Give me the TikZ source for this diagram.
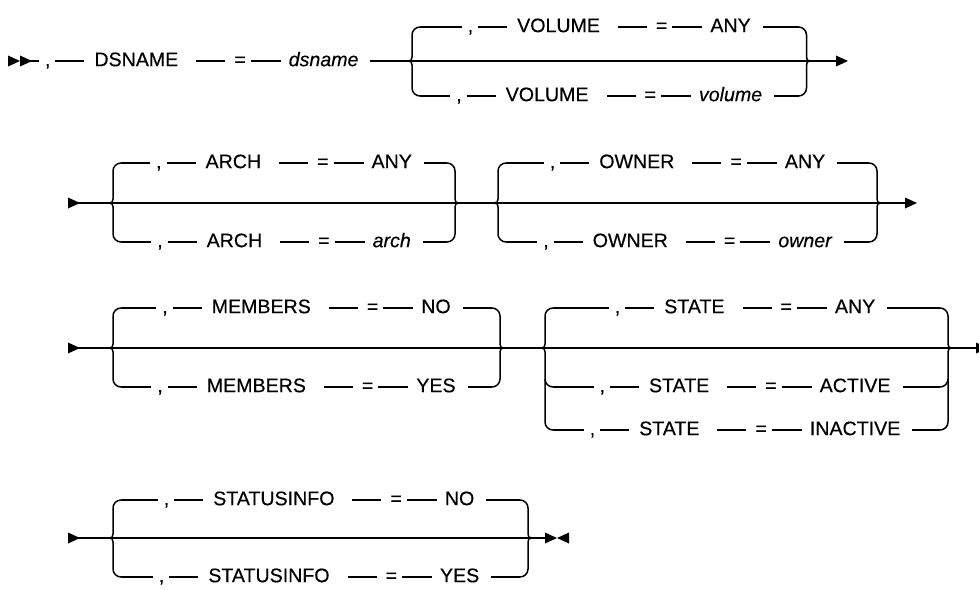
\documentclass[tikz,border=0pt]{standalone}
\usepackage{fontspec}
\setmainfont{Liberation Sans}[FakeBold=0.35]

\tikzset{
  rail/.style={line width=1.5pt, line cap=butt},
  txt/.style={inner sep=0pt, outer sep=0pt, anchor=mid west},
}

% ", -- KEY -- = -- value" on one rail.
% #1 prefix of the node names, #2 x of the comma, #3 rail y, #4 keyword, #5 value
\newcommand\kvseq[5]{%
  \node[txt] (#1c) at (#2,#3) {,};
  \node[txt] (#1k) at ([xshift=44pt]#1c.mid east) {#4};
  \node[txt] (#1q) at ([xshift=56pt]#1k.mid east) {=};
  \node[txt] (#1v) at ([xshift=43pt]#1q.mid east) {#5};
  \draw[rail, shorten <=5pt, shorten >=10pt] (#1c.mid east) -- (#1k.mid west);
  \draw[rail, shorten <=18pt, shorten >=9pt] (#1k.mid east) -- (#1q.mid west);
  \draw[rail, shorten <=5pt, shorten >=8pt] (#1q.mid east) -- (#1v.mid west);
}

% opening fork: #1 name, #2 x, #3 main rail y, #4 top branch y, #5 bottom branch y
\newcommand\forkL[5]{%
  \coordinate (#1) at (#2-4,#3);
  \coordinate (#1t) at (#2+8,#4);
  \coordinate (#1b) at (#2+8,#5);
  \draw[rail] (#1t) .. controls +(-4.4,0) and +(0,-4.4) .. (#2,#4+8)
    -- (#2,#3-4) .. controls +(0,3) and +(3,0) .. (#1)
    .. controls +(3,0) and +(0,-3) .. (#2,#3+4)
    -- (#2,#5-8) .. controls +(0,4.4) and +(-4.4,0) .. (#1b);
}
% closing fork, same arguments
\newcommand\forkR[5]{%
  \coordinate (#1) at (#2+4,#3);
  \coordinate (#1t) at (#2-8,#4);
  \coordinate (#1b) at (#2-8,#5);
  \draw[rail] (#1t) .. controls +(4.4,0) and +(0,-4.4) .. (#2,#4+8)
    -- (#2,#3-4) .. controls +(0,3) and +(-3,0) .. (#1)
    .. controls +(-3,0) and +(0,-3) .. (#2,#3+4)
    -- (#2,#5-8) .. controls +(0,4.4) and +(4.4,0) .. (#1b);
}
% filled triangles: base at #1, pointing right / left
\newcommand\tipR[1]{\fill (#1) ++(0,-5.5) -- ++(12,5.5) -- ++(-12,5.5) -- cycle;}
\newcommand\tipL[1]{\fill (#1) ++(0,-5.5) -- ++(-12,5.5) -- ++(12,5.5) -- cycle;}

% branch from fork ends #1 (left) and #2 (right) through sequence #3
\newcommand\branch[3]{%
  \draw[rail, shorten >=6pt] (#1) -- (#3c.mid west);
  \draw[rail, shorten <=12pt] (#3v.mid east) -- (#2);
}

\begin{document}
\fontsize{19.6}{23}\selectfont
\begin{tikzpicture}[x=1pt,y=-1pt]
\useasboundingbox (0,0) rectangle (979,589);

% ---------- DSNAME, VOLUME ----------
\coordinate (b1) at (8,61);
\coordinate (b1b) at (20,61);
\tipR{b1}
\tipR{b1b}
\coordinate (s1) at (30,61);
\kvseq{d}{45}{61}{DSNAME}{\itshape dsname}
\draw[rail, shorten >=6pt] (s1) -- (dc.mid west);

\forkL{vL}{412}{61}{27}{96}
\forkR{vR}{806.5}{61}{27}{96}
\coordinate (e1) at (836,61);
\draw[rail, shorten <=12pt] (dv.mid east) -- (vL) -- (vR) -- (e1);
\tipR{e1}
\kvseq{va}{467.75}{27}{VOLUME}{ANY}
\kvseq{vb}{456.3}{96}{VOLUME}{\itshape volume}
\branch{vLt}{vRt}{va}
\branch{vLb}{vRb}{vb}

% ---------- ARCH, OWNER ----------
\coordinate (s2) at (68,203);
\tipR{s2}
\forkL{aL}{113}{203}{163}{242}
\forkR{aR}{455}{203}{163}{242}
\forkL{oL}{498}{203}{163}{242}
\forkR{oR}{877}{203}{163}{242}
\coordinate (e2) at (905,203);
\draw[rail] (s2) -- (aL) -- (aR) -- (oL) -- (oR) -- (e2);
\tipR{e2}
\kvseq{aa}{156.15}{163}{ARCH}{ANY}
\kvseq{ab}{157.25}{242}{ARCH}{\itshape arch}
\kvseq{oa}{549.85}{163}{OWNER}{ANY}
\kvseq{ob}{543.3}{242}{OWNER}{\itshape owner}
\branch{aLt}{aRt}{aa}
\branch{aLb}{aRb}{ab}
\branch{oLt}{oRt}{oa}
\branch{oLb}{oRb}{ob}

% ---------- MEMBERS, STATE ----------
\coordinate (s3) at (68,348);
\tipR{s3}
\forkL{mL}{113}{348}{308}{387}
\forkR{mR}{500}{348}{308}{387}
\forkL{stL}{545}{348}{308}{430}
\forkR{stR}{948}{348}{308}{430}
\coordinate (stLm) at (553,387);
\coordinate (stRm) at (940,387);
\draw[rail] (545,379) .. controls +(0,4.4) and +(-4.4,0) .. (stLm);
\draw[rail] (948,379) .. controls +(0,4.4) and +(4.4,0) .. (stRm);
\coordinate (e3) at (976,348);
\draw[rail] (s3) -- (mL) -- (mR) -- (stL) -- (stR) -- (e3);
\tipR{e3}
\kvseq{ma}{162.3}{308}{MEMBERS}{NO}
\kvseq{mb}{157.4}{387}{MEMBERS}{YES}
\kvseq{sa}{614.8}{308}{STATE}{ANY}
\kvseq{sb}{599.55}{387}{STATE}{ACTIVE}
\kvseq{sc}{589.75}{430}{STATE}{INACTIVE}
\branch{mLt}{mRt}{ma}
\branch{mLb}{mRb}{mb}
\branch{stLt}{stRt}{sa}
\branch{stLm}{stRm}{sb}
\branch{stLb}{stRb}{sc}

% ---------- STATUSINFO ----------
\coordinate (s4) at (68,538);
\tipR{s4}
\forkL{iL}{113}{538}{500}{577}
\forkR{iR}{528}{538}{500}{577}
\coordinate (e4) at (545,538);
\coordinate (e4b) at (569,538);
\draw[rail] (s4) -- (iL) -- (iR) -- (e4);
\tipR{e4}
\tipL{e4b}
\kvseq{ia}{163.8}{500}{STATUSINFO}{NO}
\kvseq{ib}{158.9}{577}{STATUSINFO}{YES}
\branch{iLt}{iRt}{ia}
\branch{iLb}{iRb}{ib}

\end{tikzpicture}
\end{document}
